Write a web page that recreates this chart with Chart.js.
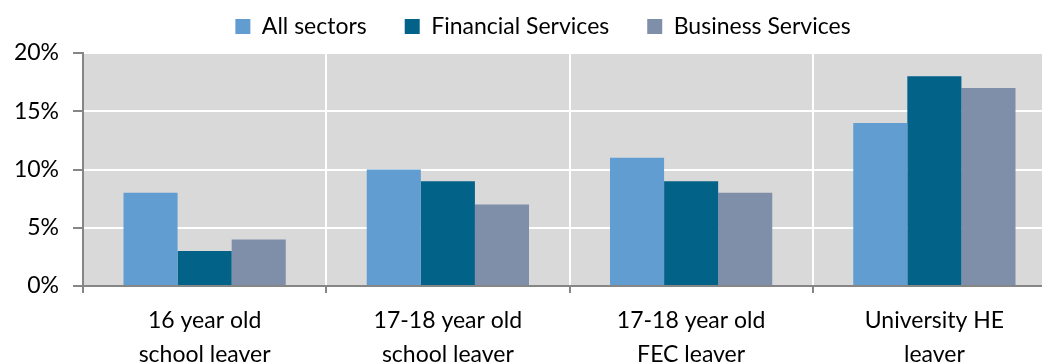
<!DOCTYPE html>
<html>
<head>
<meta charset="utf-8">
<script src="https://cdn.jsdelivr.net/npm/chart.js@4/dist/chart.umd.min.js"></script>
<style>
  html, body { margin: 0; padding: 0; background: #fff; overflow: hidden; }
  #wrap { position: relative; width: 1056px; height: 362px; }
</style>
</head>
<body>
<div id="wrap"><canvas id="c"></canvas></div>
<script>
const categories = [
  ['16 year old', 'school leaver'],
  ['17-18 year old', 'school leaver'],
  ['17-18 year old', 'FEC leaver'],
  ['University HE', 'leaver']
];
const allSectors = [8, 10, 11, 14];
const financialServices = [3, 9, 9, 18];
const businessServices = [4, 7, 8, 17];
const yTicks = [0, 5, 10, 15, 20];

const FONT = "Lato, 'Open Sans', sans-serif";
const AXIS = '#868686';

// grey plot background behind the bars
const plotBackground = {
  id: 'plotBackground',
  beforeDraw(chart) {
    const { ctx, chartArea: a } = chart;
    ctx.save();
    ctx.fillStyle = '#d9d9d9';
    ctx.fillRect(a.left, a.top, a.right - a.left, a.bottom - a.top);
    ctx.restore();
  }
};

// fixed legend band height, with the legend row nudged inside it
const legendBand = {
  id: 'legendBand',
  beforeInit(chart) {
    const lg = chart.legend;
    if (!lg) return;
    const fit = lg.fit;
    lg.fit = function () { fit.call(this); this.height = 53; };
    const draw = lg._draw;
    lg._draw = function () {
      const ctx = this.ctx;
      ctx.save();
      ctx.translate(15, -23);
      draw.call(this);
      ctx.restore();
    };
  }
};

new Chart(document.getElementById('c'), {
  type: 'bar',
  data: {
    labels: categories,
    datasets: [
      { label: 'All sectors', data: allSectors, backgroundColor: '#619dd1' },
      { label: 'Financial Services', data: financialServices, backgroundColor: '#036288' },
      { label: 'Business Services', data: businessServices, backgroundColor: '#7f8fa9' }
    ]
  },
  options: {
    responsive: true,
    maintainAspectRatio: false,
    animation: false,
    datasets: { bar: { categoryPercentage: 0.667, barPercentage: 1.0 } },
    layout: { padding: 0 },
    plugins: {
      tooltip: { enabled: false },
      legend: {
        position: 'top',
        align: 'center',
        labels: {
          boxWidth: 15,
          boxHeight: 15,
          padding: 38,
          color: '#000',
          font: { family: FONT, size: 23 }
        }
      }
    },
    scales: {
      x: {
        grid: {
          offset: true,
          color: '#ffffff',
          lineWidth: 2,
          tickColor: AXIS,
          tickLength: 7,
          drawTicks: true
        },
        border: { color: AXIS, width: 2 },
        ticks: {
          color: '#000',
          font: { family: FONT, size: 23, lineHeight: 1.48 },
          padding: 11,
          maxRotation: 0
        },
        afterFit(s) { s.height = 76; }
      },
      y: {
        min: 0,
        max: 20,
        afterBuildTicks(s) { s.ticks = yTicks.map(v => ({ value: v })); },
        grid: {
          color: '#ffffff',
          lineWidth: 2,
          tickColor: AXIS,
          tickLength: 10,
          drawTicks: true
        },
        border: { color: AXIS, width: 2 },
        ticks: {
          color: '#000',
          font: { family: FONT, size: 23 },
          padding: 14,
          callback: v => v + '%'
        },
        afterFit(s) { s.width = 83; }
      }
    }
  },
  plugins: [plotBackground, legendBand]
});
</script>
</body>
</html>
